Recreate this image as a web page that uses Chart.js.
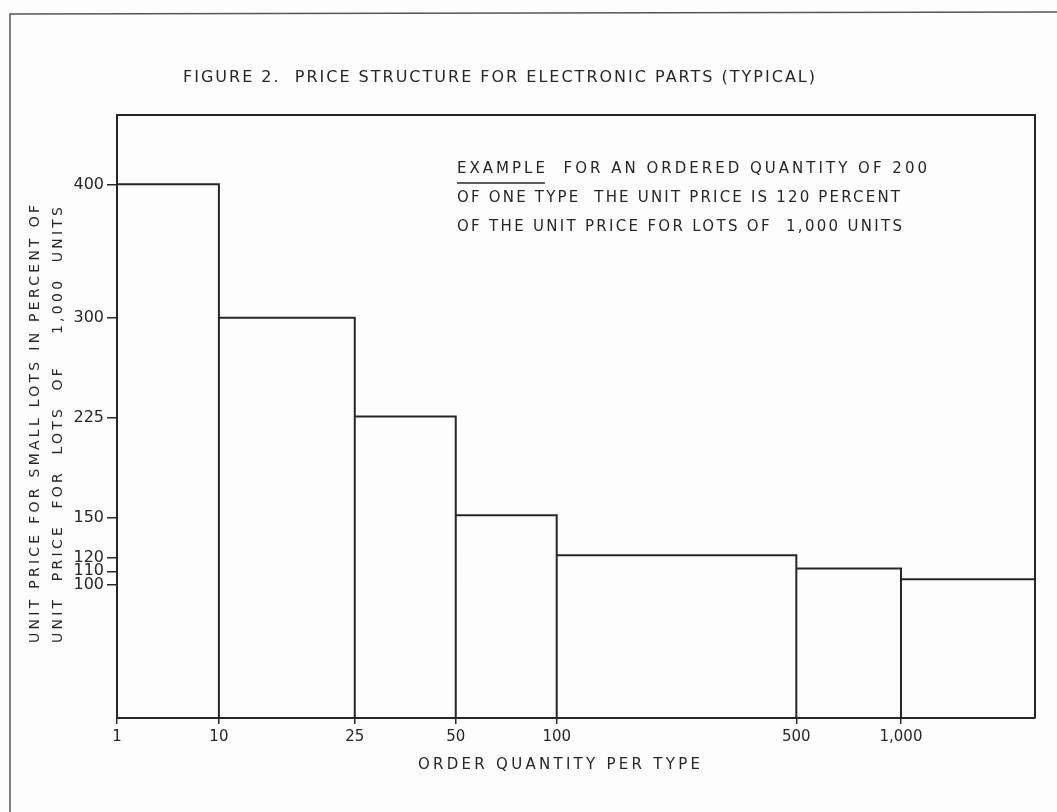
<!DOCTYPE html>
<html>
<head>
<meta charset="utf-8">
<script src="https://cdn.jsdelivr.net/npm/chart.js@4.4.1/dist/chart.umd.min.js"></script>
<style>
  html, body { margin: 0; padding: 0; background: #fdfdfd; }
  canvas { display: block; }
</style>
</head>
<body>
<canvas id="c" width="1057" height="812"></canvas>
<script>
// order quantity breaks, as read off the (non uniform) horizontal axis
const qtyLabels = ['1', '10', '25', '50', '100', '500', '1,000'];
const qtyPos = [0, 11.1, 25.9, 36.9, 47.9, 74.0, 85.4, 100]; // axis units, last one = right end of the plot
// unit price in percent of the 1,000 lot price, one value per step
const pricePct = [400, 300, 226, 152, 122, 112, 104];
const priceTicks = [100, 110, 120, 150, 225, 300, 400];

const title = 'FIGURE 2.  PRICE STRUCTURE FOR ELECTRONIC PARTS (TYPICAL)';
const xTitle = 'ORDER QUANTITY PER TYPE';
const yTitle = ['UNIT PRICE FOR SMALL LOTS IN PERCENT OF', 'UNIT  PRICE  FOR  LOTS  OF    1,000  UNITS'];
const note = ['EXAMPLE  FOR AN ORDERED QUANTITY OF 200',
  'OF ONE TYPE  THE UNIT PRICE IS 120 PERCENT',
  'OF THE UNIT PRICE FOR LOTS OF  1,000 UNITS'];

const INK = '#262626';
const FONT = '"DejaVu Sans", sans-serif';

// outline of the steps: each step is an open box standing on the axis
const outline = [{ x: qtyPos[0], y: 0 }];
pricePct.forEach((v, i) => {
  outline.push({ x: qtyPos[i], y: v }, { x: qtyPos[i + 1], y: v }, { x: qtyPos[i + 1], y: 0 });
});

// text drawn stretched to a given length, like the hand lettering
function spread(ctx, text, x, y, w) {
  ctx.letterSpacing = '0px';
  const base = ctx.measureText(text).width;
  const gap = (w - base) / (text.length - 1);
  if ('letterSpacing' in ctx) {
    ctx.letterSpacing = gap + 'px';
    ctx.fillText(text, x, y);
    ctx.letterSpacing = '0px';
  } else {
    let cx = x;
    for (const ch of text) { ctx.fillText(ch, cx, y); cx += ctx.measureText(ch).width + gap; }
  }
  return gap;
}

const paper = {
  id: 'paper',
  beforeDraw(c) {
    const ctx = c.ctx;
    ctx.save();
    ctx.fillStyle = '#fdfdfd';
    ctx.fillRect(0, 0, c.width, c.height);
    ctx.restore();
  },
  afterDraw(c) {
    const ctx = c.ctx, a = c.chartArea;
    ctx.save();
    // page frame
    ctx.strokeStyle = '#555';
    ctx.lineWidth = 1.5;
    ctx.beginPath();
    ctx.moveTo(10, 812); ctx.lineTo(10, 14); ctx.lineTo(1057, 12);
    ctx.stroke();
    // plot box top and right
    ctx.strokeStyle = INK;
    ctx.lineWidth = 2;
    ctx.beginPath();
    ctx.moveTo(a.left, a.top); ctx.lineTo(a.right, a.top); ctx.lineTo(a.right, a.bottom);
    ctx.stroke();

    ctx.fillStyle = INK;
    ctx.textBaseline = 'middle';
    ctx.textAlign = 'left';

    ctx.font = '16px ' + FONT;
    spread(ctx, title, 183, 78, 632);

    ctx.font = '15px ' + FONT;
    spread(ctx, xTitle, 418, 765, 282);

    ctx.font = '14px ' + FONT;
    [[35, 438], [58, 436]].forEach(([cx, len], i) => {
      ctx.save();
      ctx.translate(cx, 643);
      ctx.rotate(-Math.PI / 2);
      spread(ctx, yTitle[i], 0, 0, len);
      ctx.restore();
    });

    ctx.font = '15px ' + FONT;
    const gap = spread(ctx, note[0], 457, 169, 470);
    spread(ctx, note[1], 457, 198, 443);
    spread(ctx, note[2], 457, 227, 445);
    const ulen = ctx.measureText('EXAMPLE').width + gap * 6;
    ctx.lineWidth = 1.5;
    ctx.beginPath();
    ctx.moveTo(457, 183); ctx.lineTo(457 + ulen, 183);
    ctx.stroke();
    ctx.restore();
  }
};

new Chart(document.getElementById('c'), {
  type: 'line',
  data: {
    datasets: [{
      data: outline,
      borderColor: INK,
      borderWidth: 2,
      pointRadius: 0,
      tension: 0,
      fill: false,
      clip: 4
    }]
  },
  options: {
    responsive: false,
    animation: false,
    layout: { padding: { left: 0, right: 22, top: 115, bottom: 0 } },
    plugins: { legend: { display: false }, tooltip: { enabled: false } },
    scales: {
      x: {
        type: 'linear',
        min: 0,
        max: 100,
        afterBuildTicks: s => { s.ticks = qtyLabels.map((l, i) => ({ value: qtyPos[i] })); },
        afterFit: s => { s.height = 94; },
        ticks: {
          autoSkip: false,
          maxRotation: 0,
          padding: 4,
          color: INK,
          font: { family: FONT, size: 15 },
          callback: (v, i) => qtyLabels[i]
        },
        grid: { drawOnChartArea: false, tickLength: 6, color: INK, lineWidth: 1.5 },
        border: { color: INK, width: 2 }
      },
      y: {
        min: 0,
        max: 452,
        afterBuildTicks: s => { s.ticks = priceTicks.map(v => ({ value: v })); },
        afterFit: s => { s.width = 117; },
        ticks: {
          autoSkip: false,
          padding: 3,
          color: INK,
          font: { family: FONT, size: 16 },
          callback: v => String(v)
        },
        grid: { drawOnChartArea: false, tickLength: 10, color: INK, lineWidth: 1.5 },
        border: { color: INK, width: 2 }
      }
    }
  },
  plugins: [paper]
});
</script>
</body>
</html>
